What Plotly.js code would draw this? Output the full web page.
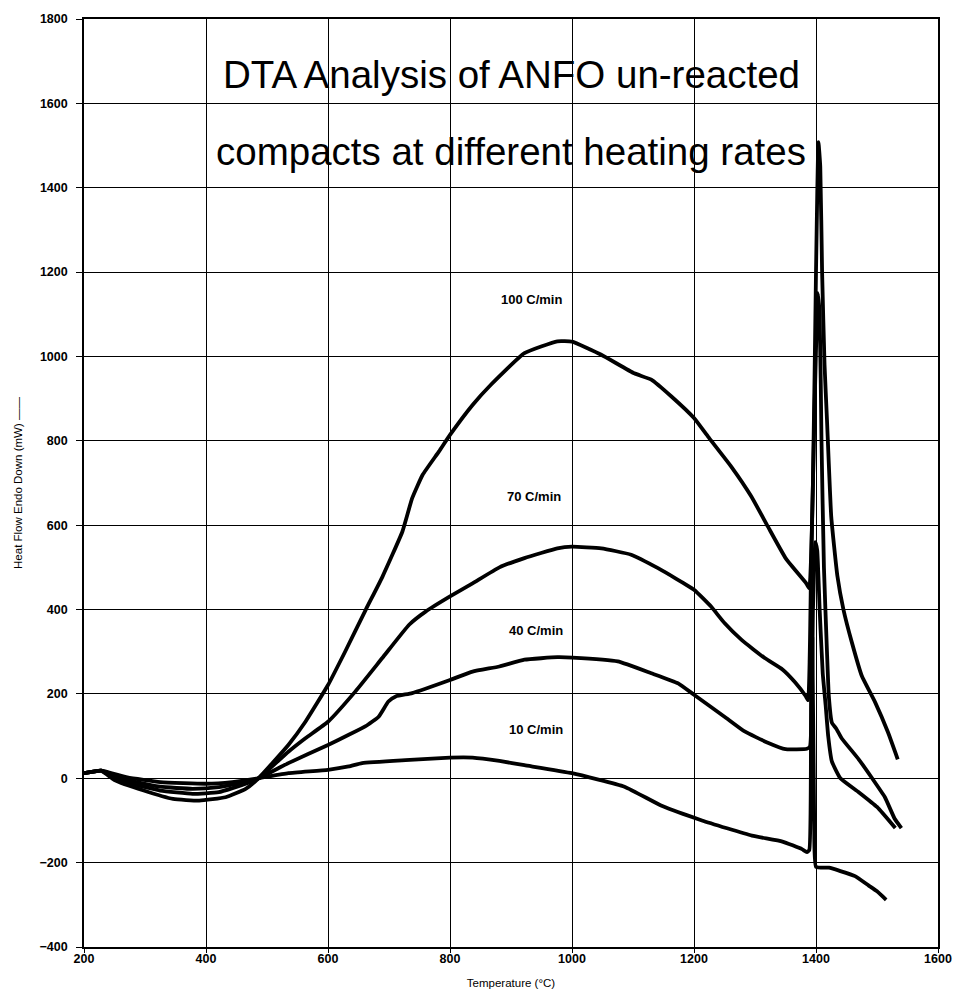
<!DOCTYPE html>
<html>
<head>
<meta charset="utf-8">
<script src="https://cdn.plot.ly/plotly-3.0.1.min.js"></script>
<style>html,body{margin:0;padding:0;background:#fff;}#chart{width:956px;height:994px;}</style>
</head>
<body>
<div id="chart"></div>
<script>
// Temperature (°C) and heat flow (mW)
const temp10 = [200,228,271,325,400,443,486,535,600,634,656,727,800,837,881,922,1000,1086,1148,1213,1295,1345,1377,1385,1389,1392,1394,1397,1400,1421,1440,1464,1486,1500,1515];
const flow10 = [12,18,2,-9,-13,-9,0,12,20,28,36,43,49,49,41,31,12,-20,-66,-100,-136,-150,-168,-175,-170,200,330,-100,-210,-212,-220,-232,-254,-268,-288];

const temp40 = [200,228,271,325,378,421,465,486,535,600,634,661,683,699,711,738,800,837,881,922,976,1000,1075,1130,1174,1200,1250,1283,1320,1350,1385,1390,1395,1399,1402,1406,1411,1416,1420,1426,1440,1470,1500,1530];
const flow40 = [12,18,-4,-20,-25,-21,-9,0,36,79,103,123,146,182,194,202,233,253,265,281,287,286,277,249,225,198,146,111,85,69,70,75,400,560,540,400,250,170,100,40,0,-33,-68,-118];

const temp70 = [200,228,260,325,378,421,465,486,535,563,600,645,689,733,760,800,837,881,922,976,1000,1048,1097,1141,1200,1228,1250,1278,1316,1345,1366,1383,1387,1392,1398,1403,1406,1409,1413,1418,1421,1426,1433,1442,1470,1492,1513,1529,1540];
const flow70 = [12,18,-6,-29,-37,-33,-13,0,63,95,134,206,285,364,395,431,462,500,522,545,549,545,530,498,447,407,368,328,285,258,227,195,185,500,900,1150,1100,800,500,300,195,132,118,95,45,0,-45,-96,-118];

const temp100 = [200,228,250,298,346,389,432,465,486,535,563,600,628,662,689,722,738,755,782,800,837,867,922,976,1000,1048,1102,1130,1163,1200,1223,1261,1294,1321,1351,1384,1389,1395,1400,1404,1407,1410,1414,1418,1425,1435,1445,1459,1475,1497,1518,1534];
const flow100 = [12,18,-4,-29,-49,-53,-45,-25,0,79,134,221,300,400,477,585,664,719,775,814,885,933,1008,1036,1035,1004,960,945,905,854,810,739,668,597,520,462,450,700,1200,1508,1450,1200,980,850,620,480,400,321,243,180,109,45];

const rateLabels = ["100 C/min","70 C/min","40 C/min","10 C/min"];
const labelTemp = [934,938,941,941];
const labelFlow = [1135,669,350,116];

const titleLines = ["DTA Analysis of ANFO un-reacted","compacts at different heating rates"];
const xTicks = [200,400,600,800,1000,1200,1400,1600];
const yTicks = [-400,-200,0,200,400,600,800,1000,1200,1400,1600,1800];

const lineStyle = {color:'#000', width:3.8, shape:'spline', smoothing:0.4};
const mk = (x,y,n)=>({x:x,y:y,name:n,mode:'lines',type:'scatter',line:lineStyle,hoverinfo:'skip'});
const traces = [mk(temp10,flow10,'10'),mk(temp40,flow40,'40'),mk(temp70,flow70,'70'),mk(temp100,flow100,'100')];

const font = {family:'Arial, "Liberation Sans", sans-serif', color:'#000'};
const annotations = rateLabels.map((t,i)=>({x:labelTemp[i],y:labelFlow[i],xref:'x',yref:'y',text:t,showarrow:false,font:Object.assign({},font,{size:13,weight:'bold'})}));
annotations.push({x:0.5,y:0.94,xref:'paper',yref:'paper',yanchor:'middle',xanchor:'center',text:titleLines[0],showarrow:false,font:Object.assign({},font,{size:38.5})});
annotations.push({x:0.5,y:0.857,xref:'paper',yref:'paper',yanchor:'middle',xanchor:'center',text:titleLines[1],showarrow:false,font:Object.assign({},font,{size:38.5})});

const axisBase = {showgrid:true,gridcolor:'#000',gridwidth:1,zeroline:false,showline:true,linecolor:'#000',linewidth:1.8,mirror:true,ticks:'outside',tickcolor:'#000',tickfont:Object.assign({},font,{size:12.5,weight:'bold'})};

const layout = {
  width:956,height:994,
  margin:{l:84,r:18,t:19,b:47},
  paper_bgcolor:'#fff',plot_bgcolor:'#fff',
  showlegend:false,
  xaxis:Object.assign({},axisBase,{range:[200,1600],tickvals:xTicks,ticklen:4,ticklabelstandoff:-5,title:{text:'Temperature (°C)',font:Object.assign({},font,{size:11.5}),standoff:14}}),
  yaxis:Object.assign({},axisBase,{range:[-400,1800],tickvals:yTicks,ticklen:6,ticklabelstandoff:6,title:{text:'Heat Flow Endo Down (mW) ——',font:Object.assign({},font,{size:11.5}),standoff:14}}),
  annotations:annotations
};
Plotly.newPlot('chart',traces,layout,{staticPlot:true});
</script>
</body>
</html>
